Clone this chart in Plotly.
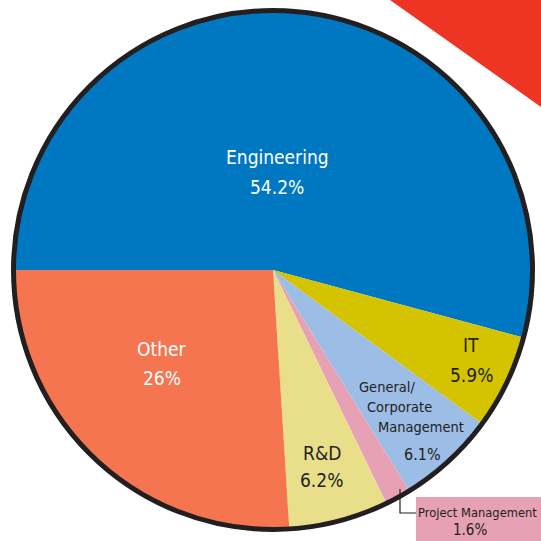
import plotly.graph_objects as go

# ---- data ----
labels = ["Engineering", "IT", "General/Corporate Management", "Project Management", "R&D", "Other"]
values = [54.2, 5.9, 6.1, 1.6, 6.2, 26]
value_text = ["54.2%", "5.9%", "6.1%", "1.6%", "6.2%", "26%"]
colors = ["#0078C1", "#D4C300", "#9CBDE6", "#E6A2B4", "#E9DE8A", "#F47550"]

W = H = 541
FONT = "DejaVu Sans Condensed, Liberation Sans Narrow, sans-serif"
DARK = "#231F20"

def X(px):
    return px / W

def Y(py):
    return 1 - py / H

cx, cy, r = 273, 270, 261

fig = go.Figure(go.Pie(
    labels=labels,
    values=values,
    sort=False,
    direction="clockwise",
    rotation=-90,
    marker=dict(colors=colors, line=dict(width=0)),
    textinfo="none",
    hoverinfo="label+percent",
    showlegend=False,
    domain=dict(x=[X(cx - r), X(cx + r)], y=[Y(cy + r), Y(cy - r)]),
))

shapes = [
    # red corner banner
    dict(type="path", xref="paper", yref="paper",
         path=f"M {X(390)} {Y(0)} L {X(541)} {Y(0)} L {X(541)} {Y(107)} Z",
         fillcolor="#EE3524", line=dict(width=0), layer="below"),
    # pie outline
    dict(type="circle", xref="paper", yref="paper",
         x0=X(cx - 259.5), x1=X(cx + 259.5), y0=Y(cy + 259.5), y1=Y(cy - 259.5),
         line=dict(color=DARK, width=5), fillcolor="rgba(0,0,0,0)"),
    # project management label box
    dict(type="rect", xref="paper", yref="paper",
         x0=X(416), x1=X(541), y0=Y(541), y1=Y(497),
         fillcolor="#E6A2B4", line=dict(width=0)),
    # leader line
    dict(type="path", xref="paper", yref="paper",
         path=f"M {X(400)} {Y(489)} L {X(400)} {Y(513)} L {X(416)} {Y(513)}",
         line=dict(color=DARK, width=1.2)),
]

def ann(text, x, y, color, size, anchor="center"):
    return dict(text=text, x=X(x), y=Y(y), xref="paper", yref="paper",
                showarrow=False, xanchor=anchor, yanchor="middle",
                font=dict(family=FONT, size=size, color=color))

annotations = [
    ann(labels[0], 277, 157, "white", 19),
    ann(value_text[0], 277, 187, "white", 19),
    ann(labels[5], 162, 349, "white", 19),
    ann(value_text[5], 162, 378, "white", 19),
    ann(labels[1], 471, 345, DARK, 19),
    ann(value_text[1], 471, 375, DARK, 19),
    ann("General/", 387, 387, DARK, 14.5),
    ann("Corporate", 399, 407, DARK, 14.5),
    ann("Management", 421, 427, DARK, 14.5),
    ann(value_text[2], 422, 454, DARK, 16),
    ann(labels[4], 322, 453, DARK, 19),
    ann(value_text[4], 321, 480, DARK, 19),
    ann(labels[3], 416, 512, DARK, 12.8, anchor="left"),
    ann(value_text[3], 470, 530, DARK, 15),
]

fig.update_layout(
    width=W, height=H,
    margin=dict(l=0, r=0, t=0, b=0),
    paper_bgcolor="white",
    plot_bgcolor="white",
    shapes=shapes,
    annotations=annotations,
)

fig.write_html("out.html", config={"displayModeBar": False},
               post_script="document.body.style.margin='0px';")
